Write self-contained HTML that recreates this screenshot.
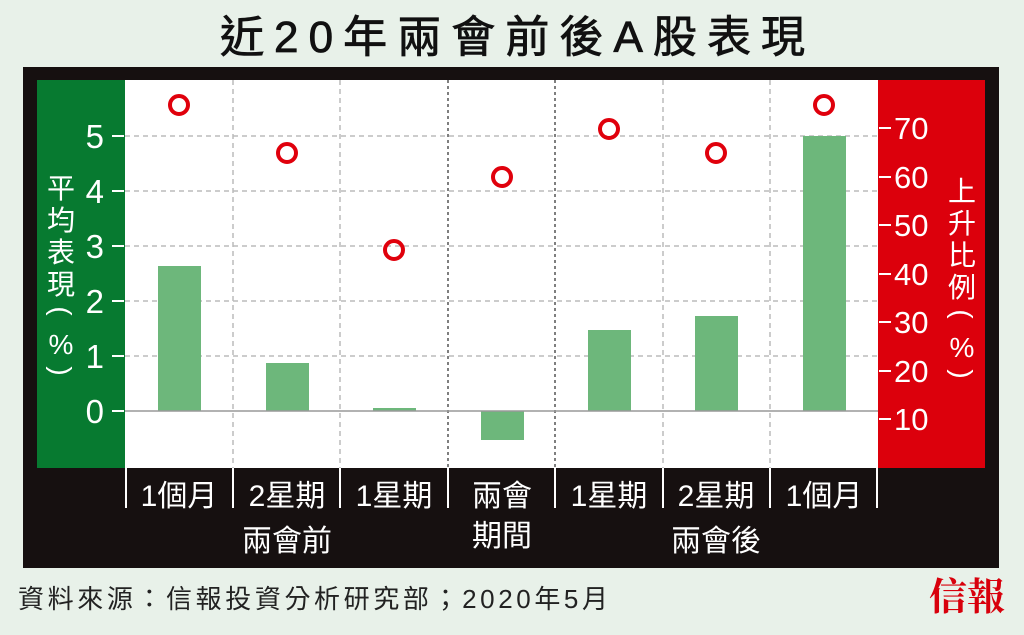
<!DOCTYPE html>
<html><head><meta charset="utf-8"><style>
body{margin:0;width:1024px;height:630px;background:#e8f1e9;overflow:hidden;font-family:"Liberation Sans","Noto Sans CJK TC",sans-serif;}
</style></head><body>
<svg width="1024" height="630" xmlns="http://www.w3.org/2000/svg" font-family="Liberation Sans, Noto Sans CJK TC, sans-serif">
<text x="220" y="52" font-size="44" fill="#111" textLength="585" lengthAdjust="spacing" stroke="#111" stroke-width="0.8">近20年兩會前後A股表現</text>
<rect x="23" y="67" width="976" height="501" fill="#161010"/>
<rect x="37" y="80" width="88" height="388" fill="#077a30"/>
<rect x="878" y="80" width="107" height="388" fill="#dc000c"/>
<rect x="125" y="80" width="753" height="388" fill="#fff"/>
<g stroke="#bbb" stroke-width="1.5" stroke-dasharray="5,4">
<line x1="125" x2="878" y1="136" y2="136"/><line x1="125" x2="878" y1="191" y2="191"/><line x1="125" x2="878" y1="246" y2="246"/><line x1="125" x2="878" y1="301" y2="301"/><line x1="125" x2="878" y1="356" y2="356"/>
<line x1="233" x2="233" y1="80" y2="468"/><line x1="340" x2="340" y1="80" y2="468"/><line x1="663" x2="663" y1="80" y2="468"/><line x1="770" x2="770" y1="80" y2="468"/>
</g>
<g stroke="#555" stroke-width="1.5" stroke-dasharray="3,3">
<line x1="448" x2="448" y1="80" y2="468"/><line x1="555" x2="555" y1="80" y2="468"/></g>
<g fill="#6db77b">
<rect x="158" y="266" width="43" height="145"/><rect x="266" y="363" width="43" height="48"/><rect x="373" y="408" width="43" height="3"/><rect x="481" y="411" width="43" height="29"/><rect x="588" y="330" width="43" height="81"/><rect x="695" y="316" width="43" height="95"/><rect x="803" y="136" width="43" height="275"/>
</g>
<line x1="125" x2="878" y1="411" y2="411" stroke="#999" stroke-width="1.5"/>
<g fill="none" stroke="#e0000c" stroke-width="4">
<circle cx="179" cy="105" r="9"/><circle cx="287" cy="153" r="9"/><circle cx="394" cy="250" r="9"/><circle cx="502" cy="177" r="9"/><circle cx="609" cy="129" r="9"/><circle cx="716" cy="153" r="9"/><circle cx="824" cy="105" r="9"/>
</g>
<g stroke="#fff" stroke-width="2">
<line x1="112" x2="124" y1="136" y2="136"/><line x1="112" x2="124" y1="191" y2="191"/><line x1="112" x2="124" y1="246" y2="246"/><line x1="112" x2="124" y1="301" y2="301"/><line x1="112" x2="124" y1="356" y2="356"/><line x1="112" x2="124" y1="411" y2="411"/>
<line x1="879" x2="891" y1="128" y2="128"/><line x1="879" x2="891" y1="177" y2="177"/><line x1="879" x2="891" y1="225" y2="225"/><line x1="879" x2="891" y1="274" y2="274"/><line x1="879" x2="891" y1="322" y2="322"/><line x1="879" x2="891" y1="371" y2="371"/><line x1="879" x2="891" y1="419" y2="419"/>
<line x1="126" x2="126" y1="468" y2="508"/><line x1="233" x2="233" y1="468" y2="508"/><line x1="340" x2="340" y1="468" y2="508"/><line x1="448" x2="448" y1="468" y2="508"/><line x1="555" x2="555" y1="468" y2="508"/><line x1="663" x2="663" y1="468" y2="508"/><line x1="770" x2="770" y1="468" y2="508"/><line x1="877" x2="877" y1="468" y2="508"/>
</g>
<g fill="#fff" font-size="33" text-anchor="end">
<text x="104" y="148">5</text><text x="104" y="203">4</text><text x="104" y="258">3</text><text x="104" y="313">2</text><text x="104" y="368">1</text><text x="104" y="423">0</text>
</g>
<g fill="#fff" font-size="31" text-anchor="start">
<text x="894" y="139">70</text><text x="894" y="188">60</text><text x="894" y="236">50</text><text x="894" y="285">40</text><text x="894" y="333">30</text><text x="894" y="382">20</text><text x="894" y="430">10</text>
</g>
<g fill="#fff" font-size="28" text-anchor="middle">
<text x="61" y="198">平</text><text x="61" y="230">均</text><text x="61" y="262">表</text><text x="61" y="294">現</text><text x="61" y="320" transform="rotate(90 61 311)">(</text><text x="61" y="354">%</text><text x="61" y="380" transform="rotate(90 61 371)">)</text>
<text x="962" y="201">上</text><text x="962" y="233">升</text><text x="962" y="265">比</text><text x="962" y="297">例</text><text x="962" y="323" transform="rotate(90 962 314)">(</text><text x="962" y="357">%</text><text x="962" y="383" transform="rotate(90 962 374)">)</text>
</g>
<g fill="#fff" font-size="30" text-anchor="middle">
<text x="179" y="506">1個月</text><text x="287" y="506">2星期</text><text x="394" y="506">1星期</text><text x="502" y="506">兩會</text><text x="609" y="506">1星期</text><text x="716" y="506">2星期</text><text x="824" y="506">1個月</text>
<text x="287" y="551">兩會前</text><text x="502" y="546">期間</text><text x="716" y="551">兩會後</text>
</g>
<text x="18" y="608" font-size="26" fill="#222" textLength="590" lengthAdjust="spacing">資料來源：信報投資分析研究部；2020年5月</text>
<text x="1005" y="610" text-anchor="end" font-size="38" font-weight="bold" fill="#d8000c" font-family="Noto Serif CJK SC, serif">信報</text>
</svg>
</body></html>
